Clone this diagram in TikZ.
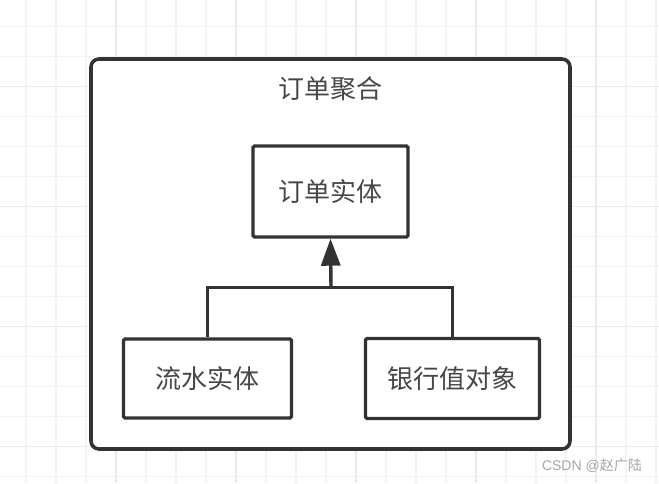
\documentclass[tikz,border=0pt]{standalone}
\usepackage{fontspec}
\newfontfamily\cjk{Noto Sans CJK SC}
\newfontfamily\wmfont{Liberation Sans}
\usetikzlibrary{arrows.meta}
\definecolor{ink}{HTML}{333333}
\definecolor{gridminor}{HTML}{F3F3F3}
\definecolor{gridmajor}{HTML}{EBEBEB}
\tikzset{
  entity/.style={draw=ink, line width=3.4pt, rounded corners=1.5pt, fill=white, inner sep=0pt},
  lbl/.style={font=\cjk\fontsize{26}{29}\selectfont, text=ink!90},
  conn/.style={draw=ink, line width=3.4pt},
}
\begin{document}
\begin{tikzpicture}[x=1pt,y=-1pt]
\useasboundingbox (0,0) rectangle (659,483);
\fill[white] (0,0) rectangle (659,483);
% grid
\foreach \i in {0,...,21} {
  \draw[gridminor, line width=1.6pt] ({26+30*\i},0) -- ({26+30*\i},483);
}
\foreach \j in {0,...,15} {
  \draw[gridminor, line width=1.6pt] (0,{26.5+30*\j}) -- (659,{26.5+30*\j});
}
\foreach \i in {116,236,356,476,596} {
  \draw[gridmajor, line width=1.6pt] (\i,0) -- (\i,483);
}
\foreach \j in {86.5,206.5,326.5,446.5} {
  \draw[gridmajor, line width=1.6pt] (0,\j) -- (659,\j);
}
% outer aggregate
\node[draw=ink, line width=3.6pt, rounded corners=8pt, fill=white, minimum width=479pt, minimum height=390pt, inner sep=0pt] (agg) at (330.5,254) {};
\node[lbl] (title) at (330,89) {订单聚合};
% entities
\node[entity, minimum width=155pt, minimum height=91pt] (order) at (330.5,191.5) {};
\node[lbl] at (order.center) {订单实体};
\node[entity, minimum width=168pt, minimum height=79pt] (flow) at (207.5,378.5) {};
\node[lbl] at (flow.center) {流水实体};
\node[entity, minimum width=174pt, minimum height=80pt] (bank) at (452.5,378.5) {};
\node[lbl] at (bank.center) {银行值对象};
% connectors
\coordinate (j) at (331,287.5);
\draw[conn] (flow.north) |- (j);
\draw[conn] (bank.north) |- (j);
\draw[conn, -{Triangle[length=27pt,width=19pt]}] (j) -- (order.south);
% watermark
\node[font=\wmfont\fontsize{14}{16}\selectfont, text=gray!70, anchor=east, inner sep=0pt] (wm) at (642,466) {CSDN @{\cjk 赵广陆}};
\end{tikzpicture}
\end{document}
